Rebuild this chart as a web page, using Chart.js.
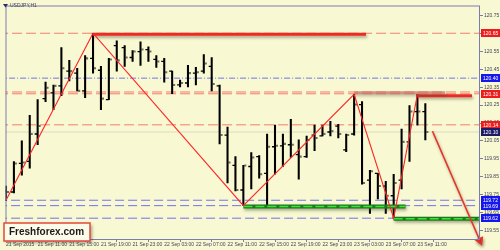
<!DOCTYPE html>
<html>
<head>
<meta charset="utf-8">
<script src="https://cdn.jsdelivr.net/npm/chart.js@4/dist/chart.umd.min.js"></script>
<style>
  html, body { margin: 0; padding: 0; background: #f8f8d2; }
  #wrap { width: 500px; height: 250px; position: relative; }
</style>
</head>
<body>
<div id="wrap"><canvas id="chart"></canvas></div>
<script>
// USDJPY H1, one bar per hour from 21 Sep 07:00 (bar 1) to 23 Sep 12:00 (bar 54)
const opens = [119.772,119.766,119.925,119.936,120.089,120.286,120.318,120.357,120.439,120.428,
  120.329,120.510,120.444,120.280,120.581,120.570,120.515,120.548,120.559,120.504,
  120.493,120.439,120.362,120.373,120.428,120.439,120.466,120.357,120.083,119.914,
  119.777,119.908,119.963,119.870,120.018,120.023,120.029,119.974,119.963,120.083,
  120.078,120.100,120.133,120.001,120.089,120.253,119.832,119.870,119.799,119.745,
  119.832,120.045,120.214,120.214];
const highs = [119.799,119.936,120.051,120.193,120.280,120.378,120.362,120.570,120.499,120.455,
  120.526,120.650,120.466,120.510,120.608,120.581,120.553,120.602,120.575,120.526,
  120.510,120.439,120.389,120.471,120.460,120.531,120.515,120.362,120.127,119.963,
  119.914,119.985,119.969,120.089,120.138,120.089,120.171,120.056,120.078,120.138,
  120.138,120.160,120.143,120.089,120.310,120.269,119.887,119.870,119.826,119.865,
  120.116,120.247,120.310,120.258];
const lows = [119.717,119.761,119.859,119.898,120.029,120.269,120.225,120.302,120.384,120.329,
  120.291,120.428,120.225,120.280,120.439,120.466,120.493,120.471,120.493,120.460,
  120.378,120.313,120.351,120.351,120.362,120.428,120.329,120.034,119.816,119.772,
  119.690,119.783,119.843,119.690,119.865,119.908,119.958,119.837,119.958,119.996,
  120.078,120.078,120.067,119.990,120.083,119.810,119.646,119.728,119.646,119.620,
  119.783,119.936,120.138,120.056];
const closes = [119.766,119.925,119.930,120.089,120.133,120.346,120.357,120.455,120.439,120.329,
  120.510,120.455,120.286,120.504,120.499,120.515,120.548,120.559,120.548,120.493,
  120.433,120.362,120.373,120.428,120.433,120.482,120.367,120.083,119.930,119.777,
  119.914,119.958,119.865,120.018,120.023,120.034,120.029,119.963,120.056,120.067,
  120.089,120.105,120.089,120.083,120.253,119.816,119.881,119.799,119.745,119.816,
  120.045,120.214,120.214,120.100];

// zigzag swing points (bar number, price)
const zigBars = [1, 12, 31, 45, 50, 53];
const zigPrices = [119.72, 120.65, 119.69, 120.31, 119.62, 120.31];

// horizontal levels
const redLevels = [120.65, 120.323, 120.313, 120.14];
const blueLevels = [119.72, 119.69, 119.62];
const pivotLevel = 120.40;
const bidPrice = 120.10;

// drawn segments: [startBar, endBar, price]
const resistSegs = [[12, 46.5, 120.645], [53, 59.9, 120.302]];
const shadeSegs = [[45, 56.5, 120.318]];
const supportSegs = [[31, 51.5, 119.685], [50, 61.5, 119.617]];
const arrowBars = [54.9, 60.9];
const arrowPrices = [120.105, 119.495];

// axis labels
const xTickBars = [1, 5, 9, 13, 17, 21, 25, 29, 33, 37, 41, 45, 49, 53];
const xLabels = ['21 Sep 2015', '21 Sep 11:00', '21 Sep 15:00', '21 Sep 19:00', '21 Sep 23:00',
  '22 Sep 03:00', '22 Sep 07:00', '22 Sep 11:00', '22 Sep 15:00', '22 Sep 19:00', '22 Sep 23:00',
  '23 Sep 03:00', '23 Sep 07:00', '23 Sep 11:00'];
const yTicks = [119.55, 119.65, 119.75, 119.85, 119.95, 120.05, 120.15, 120.25, 120.35, 120.45, 120.55, 120.65, 120.75];
const redTags = [120.65, 120.31, 120.14];
const blueTags = [120.40, 119.72, 119.69, 119.62];

const BG = '#f8f8d2';
const FONT = '"Liberation Sans", Arial, sans-serif';
const RED = '#ef2a22';
const GREEN_DARK = '#1c7a1c';
const GREEN = '#33e633';

function hline(price, color, dash, width, order) {
  return { type: 'line', data: [{ x: 0, y: price }, { x: 62, y: price }],
    borderColor: color, borderWidth: width || 1, borderDash: dash || [],
    pointRadius: 0, order: order || 10 };
}
function seg(s, color, width, extra) {
  return Object.assign({ type: 'line', data: [{ x: s[0], y: s[2] }, { x: s[1], y: s[2] }],
    borderColor: color, borderWidth: width, pointRadius: 0, order: 4 }, extra || {});
}

const datasets = [];
redLevels.forEach(p => datasets.push(hline(p, '#f47d6e', [10, 4])));
blueLevels.forEach(p => datasets.push(hline(p, '#7272ee', [9, 4])));
datasets.push(hline(pivotLevel, '#7474e6', [6, 2, 1, 2]));
datasets.push(hline(bidPrice, '#dcdcc4', [], 1, 11));

shadeSegs.forEach(s => datasets.push(seg(s, 'rgba(205,120,110,0.75)', 3, { shadow: true })));
resistSegs.forEach(s => datasets.push(seg(s, RED, 3, { shadow: true })));
supportSegs.forEach(s => {
  datasets.push(seg(s, GREEN_DARK, 4, { shadow: true }));
  datasets.push(seg(s, GREEN, 1.6, { borderDash: [9, 3], order: 3.9 }));
});

// high-low bars
datasets.push({ type: 'bar', data: lows.map((l, i) => ({ x: i + 1, y: [l, highs[i]] })),
  backgroundColor: '#000', borderWidth: 0, barThickness: 1.4, grouped: false, order: 5 });
// open ticks (left) and close ticks (right)
datasets.push({ type: 'line', showLine: false, data: opens.map((o, i) => ({ x: i + 1 - 0.19, y: o })),
  pointStyle: 'line', pointRadius: 1.5, borderColor: '#000', pointBorderColor: '#000', pointBorderWidth: 1.3, order: 5 });
datasets.push({ type: 'line', showLine: false, data: closes.map((c, i) => ({ x: i + 1 + 0.25, y: c })),
  pointStyle: 'rect', pointRadius: 1.45, pointBackgroundColor: '#6e6e5e', pointBorderWidth: 0, order: 5 });

// zigzag
datasets.push({ type: 'line', data: zigBars.map((b, i) => ({ x: b, y: zigPrices[i] })),
  borderColor: '#ff2626', borderWidth: 1.1, pointRadius: 0, order: 2 });

// forecast arrow
datasets.push({ type: 'line', data: arrowBars.map((b, i) => ({ x: b, y: arrowPrices[i] })),
  borderColor: '#e8322a', borderWidth: 1.5, pointStyle: 'triangle', pointRadius: [0, 4],
  pointRotation: [0, 157], pointBackgroundColor: '#e8322a', pointBorderColor: '#e8322a',
  clip: false, shadow: true, order: 1 });

const extras = {
  id: 'extras',
  beforeDraw(chart) {
    const c = chart.ctx;
    c.save(); c.fillStyle = BG; c.fillRect(0, 0, chart.width, chart.height); c.restore();
  },
  beforeDatasetDraw(chart, args) {
    if (chart.data.datasets[args.index].shadow) {
      const c = chart.ctx;
      c.save();
      c.shadowColor = 'rgba(70,70,50,0.45)';
      c.shadowBlur = 3; c.shadowOffsetX = 1; c.shadowOffsetY = 2;
    }
  },
  afterDatasetDraw(chart, args) {
    if (chart.data.datasets[args.index].shadow) chart.ctx.restore();
  },
  afterDraw(chart) {
    const c = chart.ctx, a = chart.chartArea, ys = chart.scales.y;
    c.save();
    c.strokeStyle = '#7c7cae'; c.lineWidth = 1;
    c.strokeRect(a.left + 0.5, a.top + 0.5, a.right - a.left - 1, a.bottom - a.top - 1);

    // price tags on the right axis
    c.font = '5px ' + FONT; c.textBaseline = 'middle'; c.textAlign = 'left';
    const tag = (v, color) => {
      const py = Math.round(ys.getPixelForValue(v));
      c.fillStyle = color; c.fillRect(a.right + 1, py - 4, 19, 8);
      c.fillStyle = '#fff'; c.fillText(v.toFixed(2), a.right + 3, py + 0.5);
    };
    blueTags.forEach(v => tag(v, '#1515ee'));
    redTags.forEach(v => tag(v, '#ee1c1c'));
    tag(bidPrice, '#1b1b66');

    // symbol title
    c.fillStyle = '#2a2a66';
    c.beginPath(); c.moveTo(3, 4); c.lineTo(8, 4); c.lineTo(5.5, 7.5); c.closePath(); c.fill();
    c.fillStyle = '#3c3c5c'; c.font = '5px ' + FONT;
    c.fillText('USDJPY,H1', 10, 6);

    // watermark box
    c.shadowColor = 'rgba(0,0,0,0.35)'; c.shadowBlur = 3; c.shadowOffsetX = 2; c.shadowOffsetY = 2;
    c.fillStyle = '#fcfbea'; c.fillRect(4, 223, 86, 18);
    c.shadowColor = 'transparent';
    c.strokeStyle = '#e4473c'; c.lineWidth = 1.5; c.strokeRect(4, 223, 86, 18);
    c.fillStyle = '#1a1a1a'; c.font = 'bold 10px ' + FONT; c.textBaseline = 'middle';
    c.fillText('Freshforex.com', 9, 232.5);
    c.restore();
  }
};

new Chart(document.getElementById('chart'), {
  type: 'line',
  data: { datasets },
  options: {
    responsive: true, maintainAspectRatio: false, animation: false,
    layout: { padding: { left: 2, top: 1, right: 0, bottom: 0 } },
    plugins: { legend: { display: false }, tooltip: { enabled: false } },
    scales: {
      x: {
        type: 'linear', min: 0.937, max: 60.91, offset: false,
        afterFit(s) { s.height = 10; },
        afterBuildTicks(s) { s.ticks = xTickBars.map(v => ({ value: v })); },
        grid: { drawOnChartArea: false, drawTicks: true, tickLength: 2, color: '#7c7cae' },
        border: { display: false },
        ticks: { autoSkip: false, maxRotation: 0, align: 'start', padding: 0,
          color: '#44445c', font: { size: 5, family: FONT },
          callback: (v, i) => xLabels[i] }
      },
      y: {
        type: 'linear', position: 'right', min: 119.4986, max: 120.8046,
        afterFit(s) { s.width = 20; },
        afterBuildTicks(s) { s.ticks = yTicks.map(v => ({ value: v })); },
        grid: { drawOnChartArea: false, drawTicks: true, tickLength: 3, color: '#7c7cae' },
        border: { display: false },
        ticks: { padding: 1, color: '#44445c', font: { size: 5, family: FONT },
          callback: v => v.toFixed(2) }
      }
    }
  },
  plugins: [extras]
});
</script>
</body>
</html>
